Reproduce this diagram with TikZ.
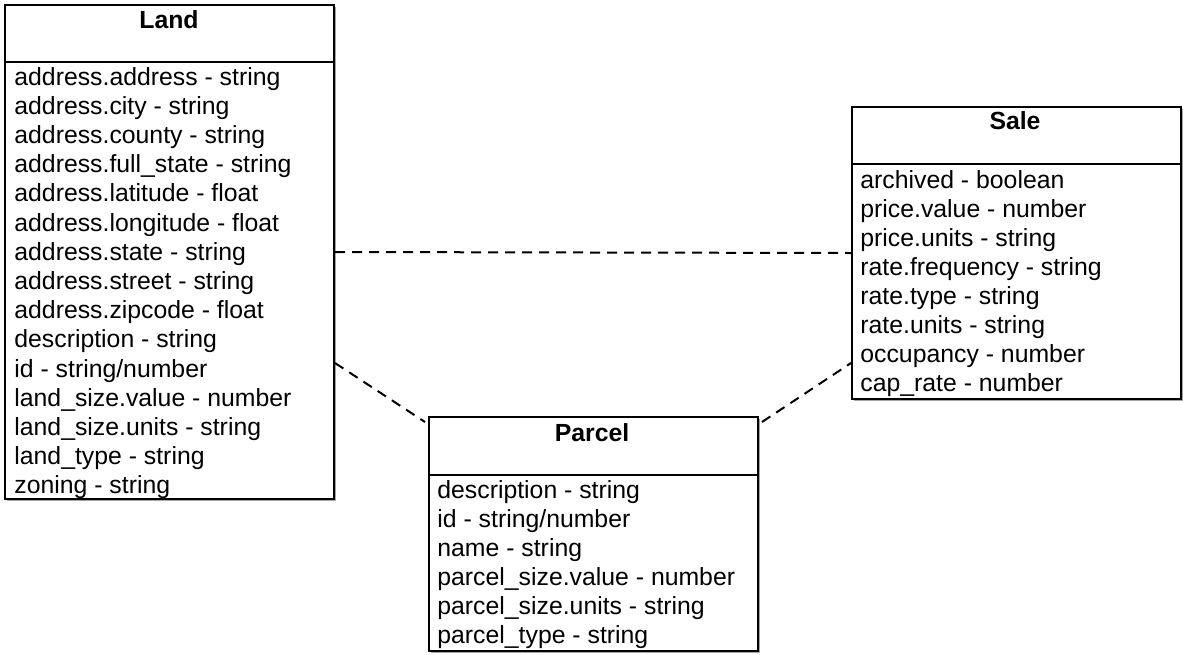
\documentclass[tikz,border=0pt]{standalone}
\usepackage{fontspec}
\setmainfont{Liberation Sans}
\usetikzlibrary{shadows,calc}
\begin{document}
\begin{tikzpicture}[x=0.5pt,y=-0.5pt,
 box/.style={draw, line width=1pt, fill=white, anchor=north west, inner sep=0pt,
   drop shadow={shadow xshift=1.2pt, shadow yshift=-1.2pt, fill=black, opacity=0.35}},
 title/.style={font=\fontsize{12.4}{14}\selectfont\bfseries, anchor=base, inner sep=0pt},
 attr/.style={font=\fontsize{12.4}{14}\selectfont, anchor=base west, inner sep=0pt},
 sep/.style={line width=1pt},
 conn/.style={line width=1pt, dash pattern=on 5pt off 3.5pt}]
\useasboundingbox (0,0) rectangle (1183,654);
\node[box, minimum width=164.5pt, minimum height=247pt] (land) at (4,4) {};
\node[box, minimum width=164.5pt, minimum height=146pt] (sale) at (851,106) {};
\node[box, minimum width=164.5pt, minimum height=117pt] (parcel) at (428,416) {};
\draw[sep] (land.west |- 0,62) -- (land.east |- 0,62);
\draw[sep] (sale.west |- 0,164) -- (sale.east |- 0,164);
\draw[sep] (parcel.west |- 0,475) -- (parcel.east |- 0,475);
\node[title] (landT) at (169,28) {Land};
\node[title] (saleT) at (1015,129) {Sale};
\node[title] (parcelT) at (592,441) {Parcel};
\foreach \t [count=\i from 0] in {address.address - string, address.city - string, address.county - string, address.full\_state - string, address.latitude - float, address.longitude - float, address.state - string, address.street - string, address.zipcode - float, description - string, id - string/number, land\_size.value - number, land\_size.units - string, land\_type - string, zoning - string}
  \node[attr] (land-\i) at (14,85+29.2*\i) {\t};
\foreach \t [count=\i from 0] in {archived - boolean, price.value - number, price.units - string, rate.frequency - string, rate.type - string, rate.units - string, occupancy - number, cap\_rate - number}
  \node[attr] (sale-\i) at (860,188+29*\i) {\t};
\foreach \t [count=\i from 0] in {description - string, id - string/number, name - string, parcel\_size.value - number, parcel\_size.units - string, parcel\_type - string}
  \node[attr] (parcel-\i) at (437,498+29*\i) {\t};
\draw[conn] (land.east) -- (sale.west);
\draw[conn] ([yshift=-55.5pt]land.east) -- ([xshift=-1.5pt,yshift=-3pt]parcel.north west);
\draw[conn] ([xshift=1.5pt,yshift=-3pt]parcel.north east) -- ([yshift=-55pt]sale.west);
\end{tikzpicture}
\end{document}
